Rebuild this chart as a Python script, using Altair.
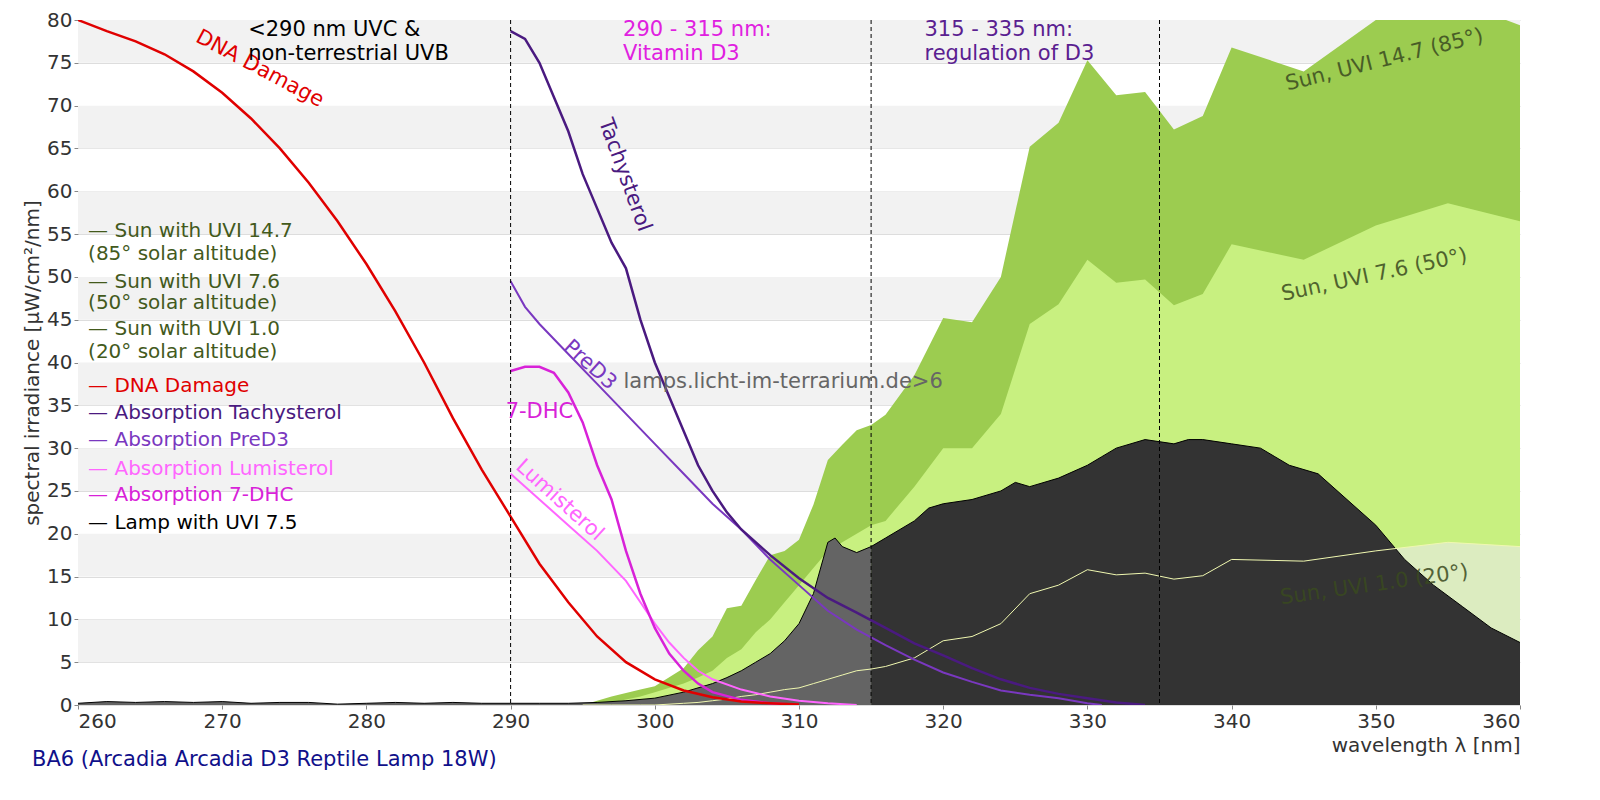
import altair as alt
import pandas as pd

FONT = "DejaVu Sans"

# --- sun spectra
sun_x = [295, 297, 299, 300, 302, 303, 304, 305, 306, 307, 308, 309, 310, 311, 312, 313, 314, 315, 316, 318,
         320, 322, 324, 326, 328, 330, 332, 334, 336, 338, 340, 345, 350, 355, 360]
sun85 = [0, 1.0, 1.8, 2.2, 4.3, 6.4, 8, 11.3, 11.6, 14.6, 17.5, 18, 19.3, 23.4, 28.6, 30.4, 32.1, 32.7, 33.9, 38.5,
         45.2, 44.7, 50, 65.2, 68, 75.3, 71.2, 71.6, 67.2, 68.8, 76.8, 74, 80, 82.5, 79.4]
sun50 = [0, 0.3, 1.0, 1.5, 2.5, 3.2, 4, 5.5, 6.5, 8.5, 10, 12, 14, 16, 18, 19, 20, 21, 21.5, 25.5,
         30, 30, 34, 44.5, 46.8, 52, 49.3, 49.7, 46.7, 48, 53.8, 52, 56, 58.6, 56.5]
sun20 = [0, 0, 0, 0, 0.2, 0.3, 0.5, 0.7, 1, 1.2, 1.5, 1.8, 2, 2.5, 3, 3.5, 4, 4.2, 4.5, 5.5,
         7.5, 8, 9.5, 13, 14, 15.8, 15.2, 15.4, 14.7, 15.1, 17, 16.8, 18, 19, 18.5]

# --- lamp spectrum
lamp_x = [260, 262, 264, 266, 268, 270, 272, 274, 276, 278, 280, 282, 284, 286, 288, 290, 292, 294, 296, 298,
          300, 302, 304, 305, 306, 307, 308, 309, 310, 311, 312, 312.5, 313, 314, 315, 316, 317, 318, 319, 320,
          322, 324, 325, 326, 328, 330, 331, 332, 334, 336, 337, 338, 340, 342, 343, 344, 346, 348, 350, 352,
          354, 356, 358, 360]
lamp = [0.2, 0.4, 0.3, 0.4, 0.3, 0.4, 0.2, 0.3, 0.3, 0.1, 0.2, 0.3, 0.2, 0.3, 0.2, 0.2, 0.2, 0.2, 0.3, 0.5,
        0.8, 1.5, 2.5, 3.2, 4, 5, 6, 7.5, 9.5, 13, 19, 19.5, 18.5, 17.8, 18.5, 19.5, 20.5, 21.5, 23, 23.5,
        24, 25, 26, 25.5, 26.5, 28, 29, 30, 31, 30.5, 31, 31, 30.5, 30, 29, 28, 27, 24, 21, 17,
        14, 11.5, 9, 7.3]

# --- action / absorption spectra
dna_x = [260, 262, 264, 266, 268, 270, 272, 274, 276, 278, 280, 282, 284, 286, 288, 290, 292, 294, 296, 298,
         300, 302, 304, 306, 308, 310]
dna = [80, 78.7, 77.5, 76, 74, 71.5, 68.5, 65, 61, 56.5, 51.5, 46, 40, 33.5, 27.5, 22, 16.5, 12, 8, 5,
       3, 1.7, 0.9, 0.4, 0.2, 0.05]
tachy_x = [290, 291, 292, 293, 294, 295, 296, 297, 298, 299, 300, 301, 302, 303, 304, 305, 306, 308, 310, 312,
           314, 316, 318, 320, 322, 324, 326, 328, 330, 332, 334]
tachy = [78.7, 77.8, 75, 71, 67, 62, 58, 54, 51, 45, 40, 36, 32, 28, 25, 22.5, 20.5, 17.5, 14.8, 12.5,
         10.8, 9, 7.2, 5.8, 4.3, 3, 2, 1.3, 0.8, 0.3, 0]
pred3_x = [290, 291, 292, 294, 296, 298, 300, 302, 304, 306, 308, 310, 312, 314, 316, 318, 320, 322, 324, 326,
           328, 330, 331]
pred3 = [49.5, 46.5, 44.5, 41, 37.5, 34, 30.5, 27, 23.5, 20.5, 17, 14, 11, 8.8, 7, 5.3, 3.8, 2.7, 1.7, 1.2,
         0.8, 0.2, 0]
dhc_x = [290, 291, 292, 293, 294, 295, 296, 297, 298, 299, 300, 301, 302, 303, 304, 306, 308, 310]
dhc = [39, 39.5, 39.5, 38.8, 36.5, 33, 28, 24, 18, 13, 9, 6, 4, 2.5, 1.5, 0.6, 0.2, 0]
lumi_x = [290, 292, 294, 296, 298, 299, 300, 301, 302, 303, 304, 306, 308, 310, 312, 314]
lumi = [27, 24, 21, 18, 14.5, 12, 9.5, 7.3, 5.5, 4, 3, 1.8, 1, 0.5, 0.2, 0]

# --- annotations
IND = "\u00a0" * 4
legend_text = ["— Sun with UVI 14.7", IND + "(85° solar altitude)", "— Sun with UVI 7.6", IND + "(50° solar altitude)",
               "— Sun with UVI 1.0", IND + "(20° solar altitude)", "— DNA Damage", "— Absorption Tachysterol",
               "— Absorption PreD3", "— Absorption Lumisterol", "— Absorption 7-DHC", "— Lamp with UVI 7.5"]
legend_y = [55.3, 52.7, 49.4, 46.9, 43.9, 41.2, 37.2, 34.1, 30.9, 27.6, 24.5, 21.3]
legend_col = ["#435a1c"] * 6 + ["#e00000", "#4a1a80", "#7a38c0", "#ff66ff", "#d822d8", "#000000"]

curve_lbl = ["DNA Damage", "Tachysterol", "PreD3", "7-DHC", "Lumisterol"]
curve_lx = [272.6, 297.9, 295.5, 292.0, 293.4]
curve_ly = [74.3, 61.9, 39.7, 34.2, 23.9]
curve_ang = [28, 70, 42, 0, 42]
curve_col = ["#e00000", "#4a1a80", "#7a38c0", "#d822d8", "#ff66ff"]

sun_lbl = ["Sun, UVI 14.7 (85°)", "Sun, UVI 7.6 (50°)", "Sun, UVI 1.0 (20°)"]
sun_lx = [350.6, 349.9, 349.9]
sun_ly = [75.3, 50.2, 14.0]
sun_ang = [346, 348, 352]

top_lbl = [["<290 nm UVC &", "non-terrestrial UVB"], ["290 - 315 nm:", "Vitamin D3"], ["315 - 335 nm:", "regulation of D3"]]
top_x = [271.8, 297.8, 318.7]
top_col = ["#000000", "#e020e0", "#5a2090"]

dashes = [290, 315, 335]
bands_lo = [5, 15, 25, 35, 45, 55, 65, 75]

xs = alt.Scale(domain=[260, 360], nice=False)
ys = alt.Scale(domain=[0, 80], nice=False)
X = alt.X("x:Q", scale=xs, axis=alt.Axis(values=list(range(260, 361, 10)), title="wavelength λ [nm]",
                                         titleAnchor="end", titleFontWeight="normal", grid=False, tickSize=4))
Y = alt.Y("y:Q", scale=ys, axis=alt.Axis(values=list(range(0, 81, 5)), title="spectral irradiance [µW/cm²/nm]",
                                         titleFontWeight="normal", grid=True, gridColor="#dddddd", tickSize=4))

bands = alt.Chart(pd.DataFrame({"y": bands_lo, "y2": [b + 5 for b in bands_lo]})).mark_rect(color="#f2f2f2").encode(
    y=Y, y2="y2:Q")


def area(xv, yv, color, **kw):
    return alt.Chart(pd.DataFrame({"x": xv, "y": yv})).mark_area(color=color, clip=True, **kw).encode(x=X, y=Y)


def line(xv, yv, color, w=2):
    return alt.Chart(pd.DataFrame({"x": xv, "y": yv})).mark_line(color=color, strokeWidth=w, clip=True).encode(x=X, y=Y)


lamp_df = pd.DataFrame({"x": lamp_x, "y": lamp})
lamp_a = lamp_df[lamp_df.x <= 315]
lamp_b = lamp_df[lamp_df.x >= 315]

layers = [
    bands,
    area(sun_x, sun85, "#9ccc50"),
    area(sun_x, sun50, "#c8f080"),
    area(sun_x, sun20, "#dcecc0"),
    area(list(lamp_a.x), list(lamp_a.y), "#646464"),
    area(list(lamp_b.x), list(lamp_b.y), "#333333"),
    line(lamp_x, lamp, "#000000", 1),
    line(sun_x, sun20, "#f0f8b0", 1),
    line(lumi_x, lumi, "#ff66ff"),
    line(dhc_x, dhc, "#d822d8", 2.5),
    line(pred3_x, pred3, "#7a38c0"),
    line(tachy_x, tachy, "#4a1a80", 2.5),
    line(dna_x, dna, "#e00000", 2.5),
    alt.Chart(pd.DataFrame({"x": dashes})).mark_rule(color="black", strokeDash=[4, 3], strokeWidth=1).encode(x=X),
    alt.Chart(pd.DataFrame({"x": [308.9], "y": [37.7], "t": ["lamps.licht-im-terrarium.de>6"]})).mark_text(
        fontSize=21, font=FONT, color="#666666").encode(x=X, y=Y, text="t:N"),
    alt.Chart(pd.DataFrame({"x": [260.7] * len(legend_text), "y": legend_y, "t": legend_text, "c": legend_col})).mark_text(
        align="left", fontSize=20, font=FONT).encode(x=X, y=Y, text="t:N", color=alt.Color("c:N", scale=None)),
]
for t, lx, ly, a, c in zip(curve_lbl, curve_lx, curve_ly, curve_ang, curve_col):
    layers.append(alt.Chart(pd.DataFrame({"x": [lx], "y": [ly], "t": [t]})).mark_text(
        fontSize=21, font=FONT, color=c, angle=a).encode(x=X, y=Y, text="t:N"))
for t, lx, ly, a in zip(sun_lbl, sun_lx, sun_ly, sun_ang):
    layers.append(alt.Chart(pd.DataFrame({"x": [lx], "y": [ly], "t": [t]})).mark_text(
        fontSize=21, font=FONT, color="#3a4a20", opacity=0.85, angle=a).encode(x=X, y=Y, text="t:N"))
for t, lx, c in zip(top_lbl, top_x, top_col):
    layers.append(alt.Chart(pd.DataFrame({"x": [lx], "y": [80.2], "t": ["\n".join(t)]})).mark_text(
        align="left", baseline="middle", fontSize=21, font=FONT, color=c, lineBreak="\n", lineHeight=24,
        dy=12).encode(x=X, y=Y, text="t:N"))
layers.append(alt.Chart(pd.DataFrame({"x": [260], "y": [0], "t": ["BA6 (Arcadia Arcadia D3 Reptile Lamp 18W)"]})).mark_text(
    align="left", fontSize=21, font=FONT, color="#10108a", dx=-46, dy=55).encode(x=X, y=Y, text="t:N"))

chart = alt.layer(*layers).properties(
    width=1442, height=685, autosize=alt.AutoSizeParams(type="none"),
    padding={"left": 70, "top": 12, "right": 40, "bottom": 75}
).configure_axis(
    labelFont=FONT, titleFont=FONT, labelFontSize=20, titleFontSize=20, labelColor="#333333",
    titleColor="#333333", domain=False, tickColor="#888888"
).configure_view(stroke=None)

chart.save("out.html", embed_options={"renderer": "svg", "actions": False})
